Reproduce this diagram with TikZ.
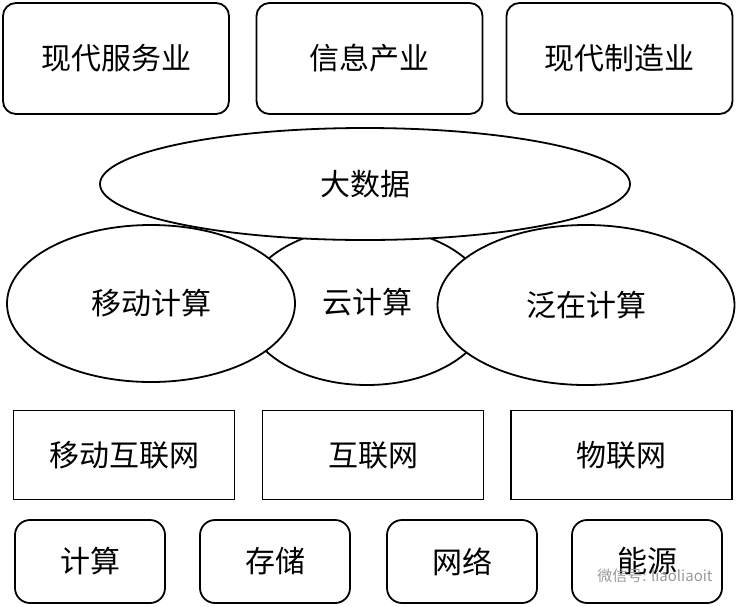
\documentclass[tikz,border=0pt]{standalone}
\usepackage{fontspec}
\setmainfont{Noto Sans CJK SC}
\usetikzlibrary{shapes.geometric}
\begin{document}
\begin{tikzpicture}[x=1pt,y=-1pt,
    every node/.style={font=\fontsize{30}{32}\selectfont},
    topbox/.style={draw,line width=1.8pt,rounded corners=13pt,minimum width=226pt,minimum height=111pt},
    midbox/.style={draw,line width=1.8pt,minimum width=221pt,minimum height=89pt},
    basebox/.style={draw,line width=1.8pt,rounded corners=15pt,minimum width=150pt,minimum height=83pt},
    oval/.style={draw,fill=white,line width=1.8pt,ellipse,inner sep=0pt}]
    \useasboundingbox (0,0) rectangle (736,606);
    % top layer
    \node[topbox] (service) at (116,58.5) {现代服务业};
    \node[topbox] (info) at (369.5,58.5) {信息产业};
    \node[topbox] (manuf) at (619.5,58.5) {现代制造业};
    % computing layer
    \node[oval,minimum width=246pt,minimum height=158pt] (cloud) at (367,306) {};
    \node[oval,minimum width=288pt,minimum height=157pt] (mobile) at (151,303.5) {移动计算};
    \node[oval,minimum width=297pt,minimum height=160pt] (pervasive) at (586,305) {泛在计算};
    \node[oval,minimum width=530pt,minimum height=112pt] (bigdata) at (365,184) {大数据};
    \node (cloudtext) at (367,302) {云计算};
    % networks
    \node[midbox] (mobilenet) at (124,455) {移动互联网};
    \node[midbox] (internet) at (373,455) {互联网};
    \node[midbox] (iot) at (621.5,455) {物联网};
    % base
    \node[basebox] (compute) at (90,561.5) {计算};
    \node[basebox] (storage) at (275,561.5) {存储};
    \node[basebox] (network) at (462,561.5) {网络};
    \node[basebox] (energy) at (647,561.5) {能源};
    \node[text=black!40,font=\fontsize{15}{16}\selectfont] (mark) at (655,576) {微信号: liaoliaoit};
\end{tikzpicture}
\end{document}
